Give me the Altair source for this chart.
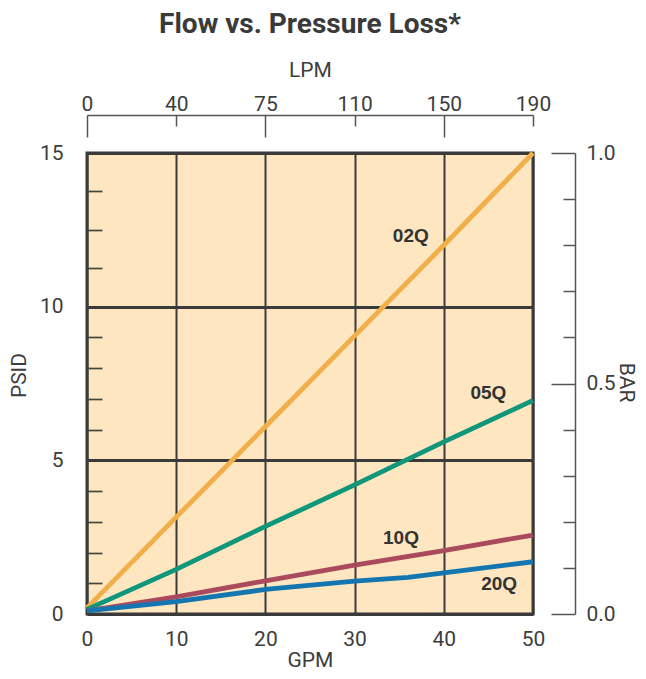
import altair as alt
import pandas as pd

# ---------------- data ----------------
series_names = ["02Q", "05Q", "10Q", "20Q"]
series_colors = ["#F2AE48", "#10967A", "#AA4B5D", "#1476B0"]

gpm_02q = [0, 10, 20, 30, 40, 50]
psid_02q = [0.2, 3.15, 6.1, 9.05, 12.0, 15.0]
gpm_05q = [0, 10, 20, 30, 40, 50]
psid_05q = [0.15, 1.45, 2.85, 4.2, 5.6, 6.95]
gpm_10q = [0, 10, 20, 30, 40, 50]
psid_10q = [0.1, 0.56, 1.08, 1.59, 2.06, 2.57]
gpm_20q = [0, 10, 20, 30, 36, 40, 50]
psid_20q = [0.1, 0.4, 0.8, 1.07, 1.19, 1.34, 1.7]

label_gpm = [36.3, 45.0, 35.2, 46.2]
label_psid = [12.3, 7.2, 2.46, 0.96]

gpm_ticks = [0, 10, 20, 30, 40, 50]
lpm_labels = ["0", "40", "75", "110", "150", "190"]
psid_major = [0, 5, 10, 15]
psid_minor = [1, 2, 3, 4, 6, 7, 8, 9, 11.25, 12.5, 13.75]
bar_ticks = [0.0, 0.1, 0.2, 0.3, 0.4, 0.5, 0.6, 0.7, 0.8, 0.9, 1.0]
bar_major = [0.0, 0.5, 1.0]

# ---------------- tables ----------------
rows = []
for name, xs, ys in [("02Q", gpm_02q, psid_02q), ("05Q", gpm_05q, psid_05q),
                     ("10Q", gpm_10q, psid_10q), ("20Q", gpm_20q, psid_20q)]:
    for i, (gx, py) in enumerate(zip(xs, ys)):
        rows.append({"series": name, "gpm": gx, "psid": py, "order": i})
lines_df = pd.DataFrame(rows)
labels_df = pd.DataFrame({"series": series_names, "gpm": label_gpm, "psid": label_psid})
bar_df = pd.DataFrame({"bar": bar_ticks})

W, H = 446, 461
TXT = "#3d3d3d"
FONT = "Roboto"

def is_in(values):
    return " || ".join(f"datum.value == {v}" for v in values)

x_scale = alt.Scale(domain=[0, 50], nice=False, zero=True)
y_scale = alt.Scale(domain=[0, 15], nice=False, zero=True)

gpm_axis = alt.Axis(
    orient="bottom", values=gpm_ticks, title="GPM", grid=True,
    gridColor="#3a3a3a", gridWidth=2, ticks=False, tickSize=0, domain=False,
    labelPadding=31, labelBaseline="alphabetic", labelFontSize=21, labelFont=FONT,
    labelColor=TXT, labelFlush=False, labelOverlap=False,
    titleFont=FONT, titleFontSize=21, titleFontWeight="normal", titleColor=TXT,
    titleBaseline="alphabetic", titleY=52,
)

psid_axis = alt.Axis(
    orient="right", offset=-W, values=psid_major + psid_minor,
    labelExpr=f"({is_in(psid_major)}) ? datum.label : ''",
    tickSize=15, tickColor="#444444", tickWidth=1.7,
    tickOpacity={"condition": {"test": is_in(psid_major), "value": 0}, "value": 1},
    grid=True, gridColor="#3a3a3a", gridWidth=3,
    gridOpacity={"condition": {"test": is_in(psid_major), "value": 1}, "value": 0},
    domain=False, labelAlign="right", labelBaseline="middle", labelPadding=-39,
    labelFont=FONT, labelFontSize=21, labelColor=TXT, labelOverlap=False, labelFlush=False,
    title="PSID", titleAngle=270, titleX=-68, titleY=222, titleAlign="center",
    titleBaseline="middle", titleFont=FONT, titleFontSize=21, titleFontWeight="normal",
    titleColor=TXT,
)

lpm_expr = "[" + ",".join(f"'{s}'" for s in lpm_labels) + "]"
gpm_list = "[" + ",".join(str(v) for v in gpm_ticks) + "]"
lpm_minor_test = "datum.value % 20 == 10"
lpm_axis = alt.Axis(
    orient="bottom", offset=-(H + 38), values=gpm_ticks,
    labelExpr=f"{lpm_expr}[indexof({gpm_list}, datum.value)]",
    grid=False, domain=True, domainColor="#555555", domainWidth=1.5,
    ticks=True, tickColor="#555555", tickWidth=1.5,
    tickSize={"condition": {"test": lpm_minor_test, "value": 11}, "value": 22},
    labelPadding={"condition": {"test": lpm_minor_test, "value": -16}, "value": -27},
    labelBaseline="alphabetic", labelFont=FONT, labelFontSize=21, labelColor=TXT,
    labelFlush=False, labelOverlap=False,
    title="LPM", titleY=-39, titleBaseline="alphabetic", titleFont=FONT,
    titleFontSize=21, titleFontWeight="normal", titleColor=TXT,
)

bar_test = is_in(bar_major)
bar_axis = alt.Axis(
    orient="left", offset=-(W + 42), values=bar_ticks,
    labelExpr=f"({bar_test}) ? format(datum.value, '.1f') : ''",
    domain=True, domainColor="#555555", domainWidth=1.5,
    ticks=True, tickColor="#555555", tickWidth=1.5,
    tickSize={"condition": {"test": bar_test, "value": 24}, "value": 12},
    labelPadding={"condition": {"test": bar_test, "value": -35}, "value": -23},
    labelAlign="left", labelBaseline="middle", labelFont=FONT, labelFontSize=21,
    labelColor=TXT, labelOverlap=False, labelFlush=False, grid=False,
    title="BAR", titleAngle=90, titleX=50, titleY=229, titleAlign="center",
    titleBaseline="middle", titleFont=FONT, titleFontSize=21, titleFontWeight="normal",
    titleColor=TXT,
)

lines = alt.Chart(lines_df).mark_line(strokeWidth=4.8, strokeCap="butt").encode(
    x=alt.X("gpm:Q", scale=x_scale, axis=gpm_axis),
    y=alt.Y("psid:Q", scale=y_scale, axis=psid_axis),
    color=alt.Color("series:N", scale=alt.Scale(domain=series_names, range=series_colors), legend=None),
    order="order:Q",
)

labels = alt.Chart(labels_df).mark_text(
    font="Liberation Sans", fontWeight="bold", fontSize=19, color="#333333",
    baseline="middle", align="center",
).encode(
    x=alt.X("gpm:Q", scale=x_scale, axis=lpm_axis),
    y=alt.Y("psid:Q", scale=y_scale, axis=None),
    text="series:N",
)

bar_layer = alt.Chart(bar_df).mark_point(opacity=0).encode(
    y=alt.Y("bar:Q", scale=alt.Scale(domain=[0, 1], nice=False), axis=bar_axis),
)

chart = alt.layer(lines, labels, bar_layer).resolve_scale(
    y="independent"
).resolve_axis(
    x="independent"
).properties(
    width=W, height=H,
    background="white",
    autosize=alt.AutoSizeParams(type="none"),
    padding={"left": 79, "top": 145, "right": 105, "bottom": 57},
    title=alt.TitleParams(
        "Flow vs. Pressure Loss*", font=FONT, fontSize=28, fontWeight="bold",
        color="#3a3a3a", anchor="middle", offset=20,
    ),
).configure_view(
    fill="#FDE6C0", stroke="#3a3a3a", strokeWidth=3,
)

chart.save("out.html", embed_options={"renderer": "svg", "actions": False})
